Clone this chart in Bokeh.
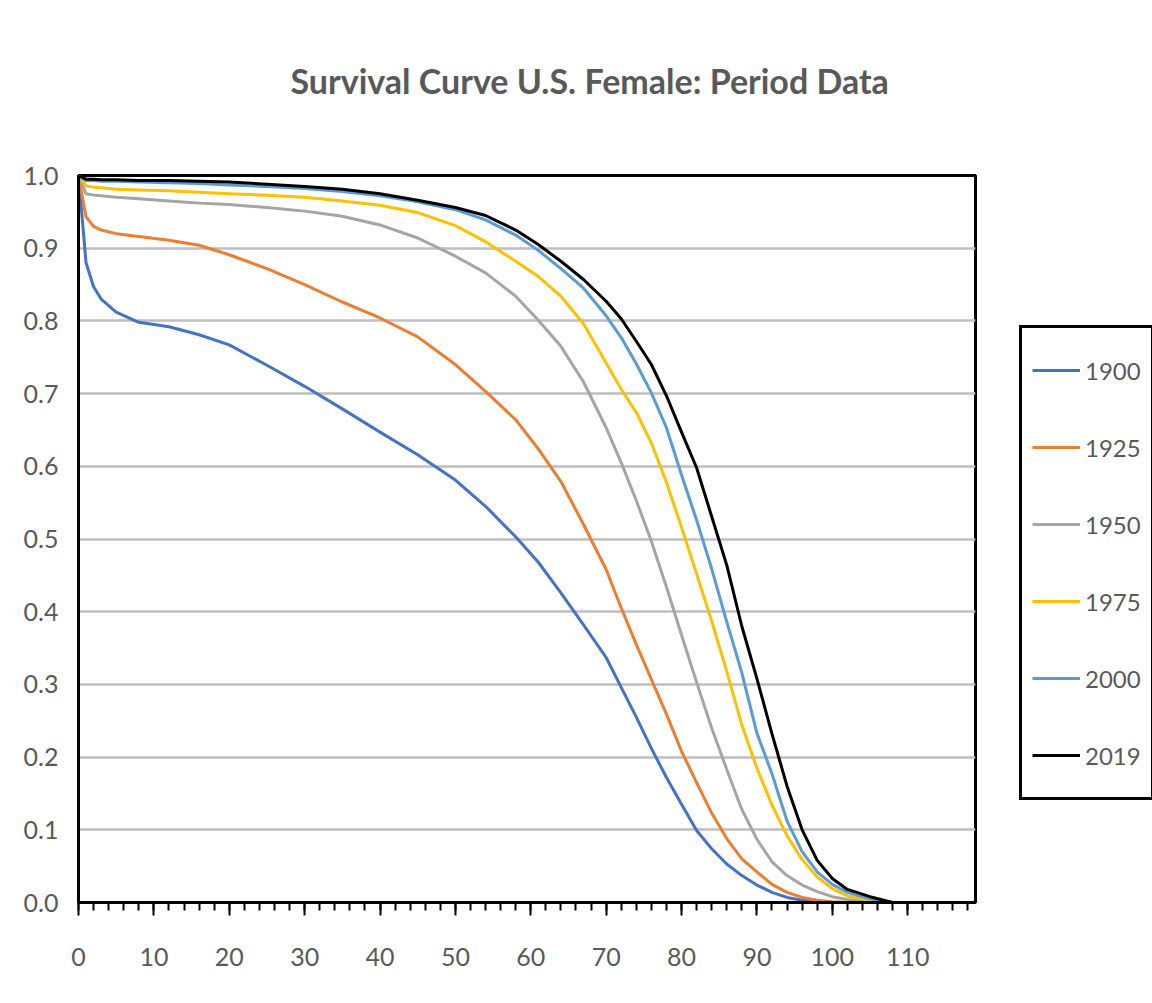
from bokeh.plotting import figure
from bokeh.models import Range1d, FixedTicker, Legend, LegendItem, Title, NumeralTickFormatter
from bokeh.embed import file_html
from bokeh.resources import INLINE

# ---- data ----
ages = [0, 1, 2, 3, 5, 8, 12, 16, 20, 25, 30, 35, 40, 45, 50, 54, 58, 61, 64, 67,
        70, 72, 74, 76, 78, 80, 82, 84, 86, 88, 90, 92, 94, 96, 98, 100, 102, 105, 108]

s1900 = [1.0, 0.88, 0.847, 0.83, 0.812, 0.798, 0.792, 0.781, 0.767, 0.739, 0.71, 0.679,
         0.647, 0.616, 0.581, 0.545, 0.503, 0.468, 0.426, 0.382, 0.337, 0.296, 0.255,
         0.212, 0.172, 0.135, 0.099, 0.074, 0.053, 0.037, 0.024, 0.014, 0.007, 0.003,
         0.001, 0.0, 0.0, 0.0, 0.0]
s1925 = [1.0, 0.943, 0.93, 0.925, 0.92, 0.916, 0.911, 0.904, 0.891, 0.872, 0.85, 0.826,
         0.804, 0.778, 0.74, 0.703, 0.664, 0.624, 0.579, 0.52, 0.458, 0.405, 0.355,
         0.307, 0.259, 0.208, 0.165, 0.123, 0.088, 0.06, 0.042, 0.025, 0.014, 0.007,
         0.003, 0.001, 0.0, 0.0, 0.0]
s1950 = [1.0, 0.975, 0.973, 0.972, 0.97, 0.968, 0.965, 0.962, 0.96, 0.956, 0.951, 0.944,
         0.932, 0.914, 0.889, 0.866, 0.834, 0.801, 0.765, 0.716, 0.653, 0.605, 0.553,
         0.497, 0.434, 0.368, 0.303, 0.24, 0.183, 0.128, 0.087, 0.056, 0.037, 0.024,
         0.015, 0.008, 0.004, 0.001, 0.0]
s1975 = [1.0, 0.986, 0.984, 0.983, 0.981, 0.98, 0.979, 0.977, 0.975, 0.973, 0.97, 0.965,
         0.959, 0.949, 0.931, 0.909, 0.882, 0.861, 0.834, 0.796, 0.742, 0.706, 0.674,
         0.632, 0.578, 0.516, 0.452, 0.387, 0.318, 0.244, 0.185, 0.134, 0.092, 0.059,
         0.035, 0.019, 0.009, 0.003, 0.0]
s2000 = [1.0, 0.993, 0.993, 0.992, 0.992, 0.991, 0.99, 0.989, 0.987, 0.985, 0.982, 0.978,
         0.972, 0.964, 0.953, 0.939, 0.918, 0.897, 0.872, 0.845, 0.807, 0.777, 0.741,
         0.701, 0.653, 0.588, 0.526, 0.459, 0.386, 0.316, 0.233, 0.177, 0.112, 0.07,
         0.042, 0.025, 0.014, 0.005, 0.0]
s2019 = [1.0, 0.995, 0.995, 0.994, 0.994, 0.993, 0.993, 0.992, 0.991, 0.988, 0.985, 0.981,
         0.975, 0.966, 0.956, 0.945, 0.925, 0.905, 0.882, 0.857, 0.827, 0.803, 0.772,
         0.74, 0.697, 0.647, 0.598, 0.531, 0.464, 0.38, 0.308, 0.232, 0.16, 0.1,
         0.058, 0.033, 0.018, 0.008, 0.0]

years = ["1900", "1925", "1950", "1975", "2000", "2019"]
series = [s1900, s1925, s1950, s1975, s2000, s2019]
colors = ["#4472C4", "#ED7D31", "#A5A5A5", "#FFC000", "#5B9BD5", "#000000"]
for s in series:
    assert len(s) == len(ages)

x_major = list(range(0, 111, 10))
x_minor = list(range(0, 119, 2))
y_ticks = [0.0, 0.1, 0.2, 0.3, 0.4, 0.5, 0.6, 0.7, 0.8, 0.9, 1.0]

title_text = "Survival Curve U.S. Female: Period Data"
FONT = "Lato"
TXT = "#595959"

p = figure(frame_width=897, frame_height=727,
           min_border_left=78, min_border_right=177, min_border_top=175, min_border_bottom=101,
           x_range=Range1d(0, 119), y_range=Range1d(0, 1),
           output_backend="svg", toolbar_location=None, tools="")
p.background_fill_color = "white"
p.border_fill_color = "white"
p.outline_line_color = "black"
p.outline_line_width = 3

# grid
p.xgrid.visible = False
p.ygrid.ticker = FixedTicker(ticks=y_ticks[1:-1])
p.ygrid.grid_line_color = "#BFBFBF"
p.ygrid.grid_line_width = 2.5

# x axis
xa = p.xaxis[0]
xa.ticker = FixedTicker(ticks=x_major, minor_ticks=x_minor)
xa.axis_line_color = "black"
xa.axis_line_width = 3
xa.major_tick_line_color = "black"
xa.major_tick_line_width = 2
xa.major_tick_in = 0
xa.major_tick_out = 13
xa.minor_tick_line_color = "black"
xa.minor_tick_line_width = 2
xa.minor_tick_in = 0
xa.minor_tick_out = 8
xa.major_label_standoff = 32
xa.major_label_text_font = FONT
xa.major_label_text_font_size = "25px"
xa.major_label_text_color = TXT

# y axis
ya = p.yaxis[0]
ya.ticker = FixedTicker(ticks=y_ticks)
ya.formatter = NumeralTickFormatter(format="0.0")
ya.axis_line_color = "black"
ya.axis_line_width = 3
ya.major_tick_out = 0
ya.major_tick_in = 0
ya.minor_tick_line_color = None
ya.major_label_standoff = 20
ya.major_label_text_font = FONT
ya.major_label_text_font_size = "25px"
ya.major_label_text_color = TXT

items = []
for yr, s, c in zip(years, series, colors):
    r = p.line(ages, s, line_color=c, line_width=3, line_join="round")
    items.append(LegendItem(label=yr, renderers=[r]))

legend = Legend(items=items, location=(44, 102), orientation="vertical",
                border_line_color="black", border_line_width=3, border_line_alpha=1.0,
                background_fill_color="white", background_fill_alpha=1,
                padding=10, spacing=13, margin=0,
                glyph_width=48, glyph_height=64, label_height=64,
                label_standoff=5, label_text_font=FONT, label_text_font_size="24px",
                label_text_color=TXT, label_text_baseline="middle")
p.add_layout(legend, "right")

# spacer between the frame and the title, then the title itself
p.add_layout(Title(text=" ", text_font_size="52px"), "above")
p.title.text = title_text
p.title.align = "left"
p.title.offset = 212
p.title.text_font = FONT
p.title.text_font_size = "34px"
p.title.text_font_style = "bold"
p.title.text_color = TXT

open("out.html", "w").write(file_html(p, INLINE))
